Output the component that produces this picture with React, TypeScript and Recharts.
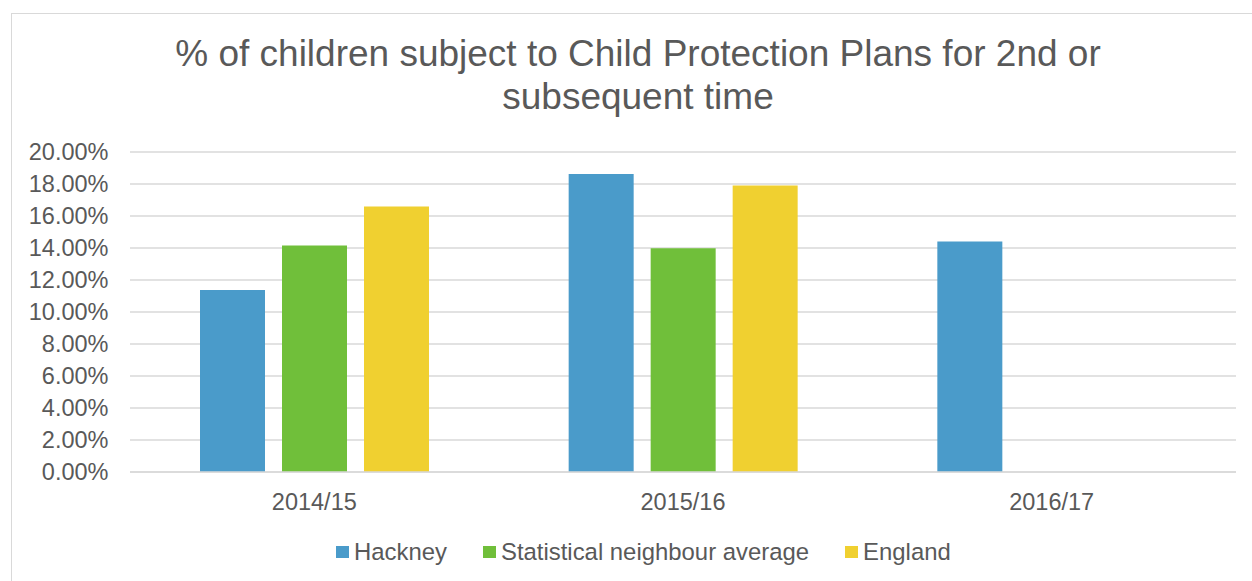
import React from "react";
import { BarChart, Bar, XAxis, YAxis, CartesianGrid } from "recharts";

const categories = ["2014/15", "2015/16", "2016/17"];
const hackney = [0.1138, 0.1862, 0.144];
const neighbour: (number | null)[] = [0.1415, 0.1399, null];
const england: (number | null)[] = [0.1659, 0.1791, null];
const yTicks = [0, 0.02, 0.04, 0.06, 0.08, 0.1, 0.12, 0.14, 0.16, 0.18, 0.2];
const titleLines = ["% of children subject to Child Protection Plans for 2nd or", "subsequent time"];

const seriesNames = ["Hackney", "Statistical neighbour average", "England"];
const seriesKeys = ["hackney", "neighbour", "england"];
const seriesColors = ["#4a9bca", "#70bf3a", "#f0d030"];

const data = categories.map((c, i) => ({
  name: c,
  hackney: hackney[i],
  neighbour: neighbour[i],
  england: england[i],
}));

const FONT = "'Liberation Sans', Arial, sans-serif";
const TEXT = "#595959";

export default function App() {
  return (
    <div
      style={{
        position: "absolute",
        left: 0,
        top: 0,
        width: 1252,
        height: 581,
        overflow: "hidden",
        background: "#fff",
        fontFamily: FONT,
      }}
    >
      <div
        style={{
          position: "absolute",
          left: 11,
          top: 13,
          width: 1300,
          height: 700,
          border: "1px solid #d9d9d9",
          boxSizing: "border-box",
        }}
      />
      <div
        style={{
          position: "absolute",
          left: 0,
          top: 33,
          width: 1276,
          textAlign: "center",
          fontSize: 37,
          lineHeight: "42.7px",
          color: TEXT,
          whiteSpace: "nowrap",
        }}
      >
        {titleLines.map((t, i) => (
          <div key={i}>{t}</div>
        ))}
      </div>
      <div style={{ position: "absolute", left: 0, top: 0 }}>
        <BarChart
          width={1252}
          height={581}
          data={data}
          margin={{ top: 152, right: 16, left: 0, bottom: 79 }}
          barCategoryGap={70}
          barGap={17}
          style={{ fontFamily: FONT }}
        >
          <CartesianGrid vertical={false} stroke="#d9d9d9" strokeWidth={1.3} />
          <XAxis
            dataKey="name"
            height={30}
            tickLine={false}
            tickSize={0}
            tickMargin={21}
            axisLine={{ stroke: "#d9d9d9", strokeWidth: 1.3 }}
            tick={{ fill: TEXT, fontSize: 23.5, fontFamily: FONT }}
          />
          <YAxis
            width={130}
            domain={[0, 0.2]}
            ticks={yTicks}
            interval={0}
            tickLine={false}
            tickSize={0}
            tickMargin={21.5}
            axisLine={false}
            tickFormatter={(v: number) => (v * 100).toFixed(2) + "%"}
            tick={{ fill: TEXT, fontSize: 23.5, fontFamily: FONT }}
          />
          {seriesKeys.map((k, i) => (
            <Bar key={k} dataKey={k} name={seriesNames[i]} fill={seriesColors[i]} isAnimationActive={false} />
          ))}
        </BarChart>
      </div>
      <div
        style={{
          position: "absolute",
          left: 336,
          top: 540,
          height: 24,
          display: "flex",
          alignItems: "center",
          fontSize: 23.9,
          lineHeight: "24px",
          color: TEXT,
          whiteSpace: "nowrap",
        }}
      >
        {seriesNames.map((n, i) => (
          <div key={n} style={{ display: "flex", alignItems: "center", marginRight: 36 }}>
            <span style={{ display: "inline-block", width: 13, height: 12, background: seriesColors[i], marginRight: 5 }} />
            <span>{n}</span>
          </div>
        ))}
      </div>
    </div>
  );
}
